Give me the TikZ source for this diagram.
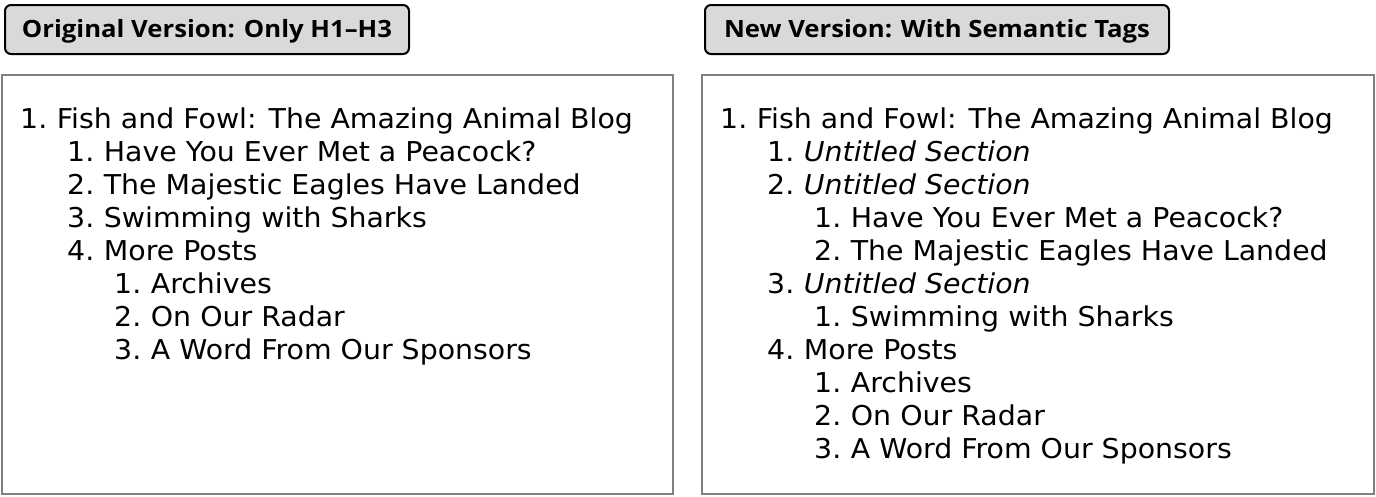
\documentclass[tikz,border=0pt]{standalone}
\usepackage{fontspec}
\setmainfont{DejaVu Sans}[FakeStretch=1.04]
\newfontfamily\tabfont{Open Sans}[FakeStretch=1.08]
\newcommand\itemnum[1]{#1\hspace{9.6pt}}
\begin{document}
\begin{tikzpicture}[x=1pt,y=-1pt,
  tabbox/.style={draw=black,line width=2pt,fill=black!15,rounded corners=6pt},
  panel/.style={draw=black!50,line width=2pt,fill=white},
  tabtext/.style={font=\tabfont\bfseries\fontsize{23.8}{28}\selectfont,inner sep=0pt,anchor=base},
  item/.style={anchor=base west,inner sep=0pt,font=\fontsize{27.3}{32}\selectfont}]
\useasboundingbox (0,0) rectangle (1376,496);
% tabs
\draw[tabbox] (5,5) rectangle (409,54);
\node[tabtext] (t1) at (207,37.5) {Original Version: Only H1–H3};
\draw[tabbox] (705,5) rectangle (1169,54);
\node[tabtext] (t2) at (937,37.5) {New Version: With Semantic Tags};
% panels
\draw[panel] (2,75) rectangle (673,494);
\draw[panel] (702,75) rectangle (1374,494);
% left list
\node[item] (l0) at (20,128) {\itemnum{1.}Fish and Fowl: The Amazing Animal Blog};
\node[item] (l1) at (67,161) {\itemnum{1.}Have You Ever Met a Peacock?};
\node[item] (l2) at (67,194) {\itemnum{2.}The Majestic Eagles Have Landed};
\node[item] (l3) at (67,227) {\itemnum{3.}Swimming with Sharks};
\node[item] (l4) at (67,260) {\itemnum{4.}More Posts};
\node[item] (l5) at (114,293) {\itemnum{1.}Archives};
\node[item] (l6) at (114,326) {\itemnum{2.}On Our Radar};
\node[item] (l7) at (114,359) {\itemnum{3.}A Word From Our Sponsors};
% right list
\node[item] (r0) at (720,128) {\itemnum{1.}Fish and Fowl: The Amazing Animal Blog};
\node[item] (r1) at (767,161) {\itemnum{1.}\textit{Untitled Section}};
\node[item] (r2) at (767,194) {\itemnum{2.}\textit{Untitled Section}};
\node[item] (r3) at (814,227) {\itemnum{1.}Have You Ever Met a Peacock?};
\node[item] (r4) at (814,260) {\itemnum{2.}The Majestic Eagles Have Landed};
\node[item] (r5) at (767,293) {\itemnum{3.}\textit{Untitled Section}};
\node[item] (r6) at (814,326) {\itemnum{1.}Swimming with Sharks};
\node[item] (r7) at (767,359) {\itemnum{4.}More Posts};
\node[item] (r8) at (814,392) {\itemnum{1.}Archives};
\node[item] (r9) at (814,425) {\itemnum{2.}On Our Radar};
\node[item] (r10) at (814,458) {\itemnum{3.}A Word From Our Sponsors};
\end{tikzpicture}
\end{document}
